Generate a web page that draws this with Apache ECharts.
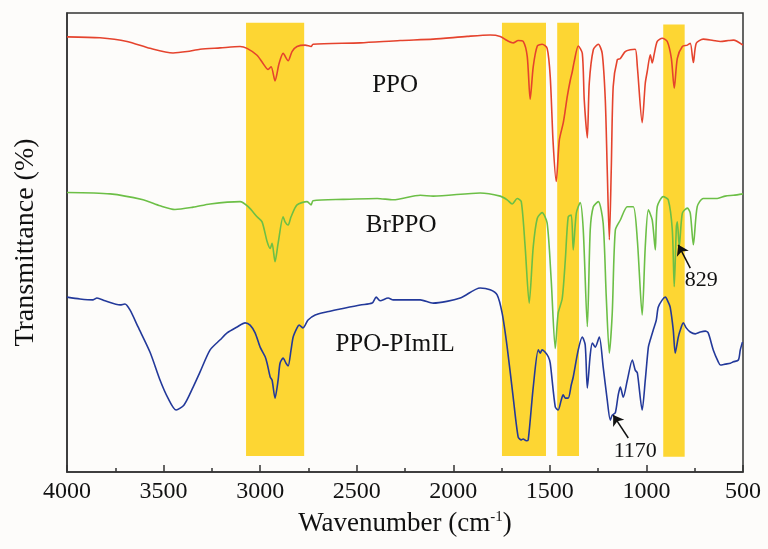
<!DOCTYPE html>
<html><head><meta charset="utf-8">
<script src="https://cdn.jsdelivr.net/npm/echarts@6/dist/echarts.min.js"></script>
<style>html,body{margin:0;padding:0;background:#fdfcfa}#c{width:768px;height:549px}</style>
</head><body><div id="c"></div>
<script>
// ---- data (wavenumber in cm-1, transmittance in arbitrary offset units) ----
const ppoWn = [4000,3829,3689,3570,3451,3378,3311,3207,3104,3068,3016,2985,2959,2943,2923,2902,2881,2855,2835,2809,2767,2736,2726,2482,2275,2104,1928,1809,1757,1721,1690,1664,1638,1617,1602,1586,1565,1540,1514,1498,1483,1467,1451,1431,1420,1410,1394,1384,1374,1353,1332,1322,1306,1296,1275,1249,1229,1213,1203,1192,1182,1172,1151,1135,1110,1084,1058,1047,1022,1006,996,980,970,959,944,918,892,871,856,840,814,788,773,757,742,706,654,617,575,549,500];
const ppoT  = [94.8,94.6,93.8,92.3,91.3,91.6,92.1,92.4,92.7,92.3,90.8,89.0,87.7,88.3,85.2,89.0,91.2,89.6,91.6,92.7,93.0,92.7,93.2,93.5,94.0,94.3,94.9,95.2,94.9,94.0,93.5,94.0,93.8,90.5,81.2,88.3,92.8,93.2,92.3,86.1,71.7,63.3,72.3,76.0,78.9,81.8,85.4,87.2,89.4,92.8,91.2,81.1,72.8,84.7,92.0,93.2,91.2,81.1,66.0,50.6,66.0,84.0,89.8,90.1,91.6,92.0,92.1,88.3,76.1,84.7,87.2,90.9,89.1,91.2,93.8,94.5,93.8,90.1,83.6,90.1,92.7,93.0,93.4,89.2,93.4,94.3,94.0,93.8,94.0,94.1,93.0];

const brWn = [4000,3777,3606,3518,3441,3347,3259,3104,3062,3016,2990,2964,2948,2938,2923,2907,2881,2871,2855,2840,2809,2757,2736,2726,2570,2394,2311,2171,2104,1861,1757,1721,1695,1669,1648,1628,1607,1586,1565,1540,1514,1493,1472,1457,1436,1420,1405,1389,1379,1363,1343,1327,1306,1291,1275,1249,1224,1208,1192,1177,1161,1135,1099,1068,1047,1022,1006,990,970,954,944,913,887,866,856,845,840,830,814,788,773,757,737,706,633,592,550,500];
const brT  = [60.9,60.6,59.3,58.0,57.2,57.7,58.4,58.9,57.8,55.6,54.5,50.2,48.7,49.8,45.8,49.8,55.6,54.5,53.8,55.6,58.2,58.9,58.2,59.1,59.4,59.6,59.3,60.3,60.1,60.8,60.1,59.3,58.4,59.6,58.9,49.1,36.8,49.1,55.3,56.5,54.2,41.8,26.9,34.6,37.8,46.2,55.6,56.0,48.4,56.4,58.7,52.7,31.7,52.7,57.8,58.9,54.2,38.2,25.9,34.6,52.7,54.9,57.8,57.8,50.5,34.2,49.1,57.1,54.9,48.4,57.8,60.0,59.3,52.7,40.4,53.4,54.5,49.1,56.4,57.5,56.4,49.5,57.8,59.6,59.6,60.1,60.3,60.6];

const pimWn = [4000,3933,3865,3845,3803,3725,3700,3674,3632,3570,3518,3477,3435,3394,3347,3311,3259,3207,3171,3119,3078,3052,3026,3000,2974,2964,2948,2938,2923,2907,2897,2881,2866,2855,2840,2829,2809,2798,2778,2752,2715,2653,2586,2482,2420,2399,2379,2337,2311,2171,2104,1964,1861,1809,1773,1747,1721,1690,1664,1648,1638,1622,1612,1586,1560,1550,1540,1524,1508,1498,1472,1457,1441,1431,1420,1405,1389,1379,1353,1332,1317,1306,1291,1280,1265,1244,1224,1203,1187,1177,1161,1146,1135,1120,1099,1073,1058,1047,1022,1006,990,980,965,949,939,918,902,887,877,861,851,835,825,809,794,773,747,721,695,680,654,628,617,592,565,550,524,514,503];
const pimT  = [38.1,37.7,37.5,37.9,37.3,36.4,36.6,35.3,31.6,26.1,20.0,16.1,13.5,14.6,18.5,21.8,26.6,28.8,30.3,31.6,32.5,32.0,30.3,27.2,25.1,23.7,20.7,20.0,16.1,20.0,23.7,24.8,23.7,23.1,26.6,29.4,31.4,32.0,31.4,33.1,34.2,34.9,35.5,36.4,36.8,38.1,37.3,37.9,37.5,37.5,36.8,37.9,40.1,39.7,38.6,34.6,27.2,16.3,7.6,7.0,7.2,6.8,7.0,18.5,26.6,25.9,26.6,26.1,25.1,23.7,14.2,13.5,15.7,16.8,16.1,16.1,19.0,20.7,26.6,29.4,27.7,18.3,25.5,28.1,27.2,29.4,22.9,15.7,11.3,12.4,12.9,16.8,18.5,16.3,20.0,24.4,22.2,21.6,13.5,20.0,27.2,28.8,30.9,33.1,35.9,37.5,38.1,37.0,35.9,30.9,25.9,29.4,30.9,32.5,31.4,30.5,30.1,30.5,30.7,30.3,26.6,24.0,23.3,23.5,23.7,24.0,24.4,26.6,28.3];

// highlighted bands (wavenumber ranges)
const bandRanges = [[3073,2772],[1748,1520],[1462,1349],[913,802]];
const seriesNames = ['PPO','BrPPO','PPO-PImIL'];
const annotations = ['829','1170'];

const zip = (a,b) => a.map((x,i)=>[x,b[i]]);
const FONT = '"Liberation Serif","Times New Roman",serif';
const chart = echarts.init(document.getElementById('c'), null, {renderer:'canvas'});

const lineSeries = (name, wn, t, color) => ({
  name, type:'line', data: zip(wn,t), showSymbol:false, symbol:'none', smooth:0.25, z:3,
  lineStyle:{color, width:1.6}, emphasis:{disabled:true}, silent:true
});

const labelPt = (text, x, y, size) => ({
  coord:[x,y], value:text, symbol:'circle', symbolSize:1, itemStyle:{color:'rgba(0,0,0,0)'},
  label:{show:true, position:'inside', formatter:text, fontFamily:FONT, fontSize:size, color:'#111'}
});

const option = {
  animation:false,
  backgroundColor:'#fdfcfa',
  grid:{left:67,right:25,top:13,bottom:77,show:true,borderColor:'#333',borderWidth:1.5,backgroundColor:'transparent'},
  xAxis:{
    type:'value', inverse:true, min:500, max:4000, interval:500,
    axisLine:{show:true, lineStyle:{color:'#333', width:1.5}},
    axisTick:{show:true, inside:true, length:7, lineStyle:{color:'#333', width:1.5}},
    minorTick:{show:true, splitNumber:2, length:4, lineStyle:{color:'#333', width:1.5}},
    splitLine:{show:false}, minorSplitLine:{show:false},
    axisLabel:{fontFamily:FONT, fontSize:24, color:'#111', margin:8, formatter:(v)=>String(v)},
    name:'Wavenumber (cm{sup|-1})', nameLocation:'middle', nameGap:38,
    nameTextStyle:{fontFamily:FONT, fontSize:27, color:'#111',
      rich:{sup:{fontFamily:FONT, fontSize:15, color:'#111', verticalAlign:'top', lineHeight:16}}}
  },
  yAxis:{
    type:'value', min:0, max:100,
    axisLine:{show:true, lineStyle:{color:'#333', width:1.5}},
    axisTick:{show:false}, axisLabel:{show:false}, splitLine:{show:false},
    name:'Transmittance (%)', nameLocation:'middle', nameGap:27,
    nameTextStyle:{fontFamily:FONT, fontSize:28, color:'#111'}
  },
  series:[
    {name:'bands', type:'line', data:[], z:1, silent:true,
      markArea:{silent:true, itemStyle:{color:'#FDD633'},
        data: bandRanges.map((r,i)=>[{coord:[r[0], i===3?97.5:97.9]},{coord:[r[1], i===3?3.3:3.5]}])}},
    lineSeries(seriesNames[0], ppoWn, ppoT, '#E5432D'),
    lineSeries(seriesNames[1], brWn, brT, '#6CBF46'),
    lineSeries(seriesNames[2], pimWn, pimT, '#23399A'),
    {name:'annot', type:'line', data:[], z:5, silent:true,
      markPoint:{silent:true, animation:false, data:[
        labelPt(seriesNames[0], 2301, 84.3, 25),
        labelPt(seriesNames[1], 2270, 53.8, 25),
        labelPt(seriesNames[2], 2301, 27.9, 25),
        labelPt(annotations[0], 716, 41.8, 22),
        labelPt(annotations[1], 1058, 4.5, 22)
      ]},
      markLine:{silent:true, animation:false, symbol:['none','arrow'], symbolSize:10,
        label:{show:false}, lineStyle:{color:'#111', width:1.5, type:'solid'},
        data:[
          [{coord:[773,44.4]},{coord:[835,49.5]}],
          [{coord:[1094,7.4]},{coord:[1172,12.4]}]
        ]}
    }
  ]
};
chart.setOption(option);
</script></body></html>
